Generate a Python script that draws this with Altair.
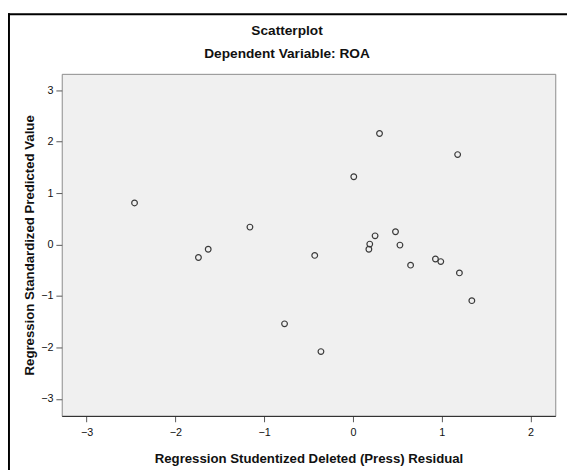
import altair as alt
import pandas as pd

# Regression Studentized Deleted (Press) Residual
resid = [-2.46, -1.16, -1.63, -1.74, -0.43, -0.77, -0.36,
         0.30, 1.18, 0.01, 0.48, 0.25, 0.19, 0.18, 0.53,
         0.65, 0.93, 0.99, 1.20, 1.34]
# Regression Standardized Predicted Value
pred = [0.81, 0.34, -0.09, -0.25, -0.21, -1.54, -2.08,
        2.16, 1.75, 1.32, 0.25, 0.17, 0.01, -0.09, -0.01,
        -0.40, -0.28, -0.33, -0.55, -1.09]

x_ticks = [-3, -2, -1, 0, 1, 2]
y_ticks = [-3, -2, -1, 0, 1, 2, 3]

df = pd.DataFrame({"resid": resid, "pred": pred})

FONT = "Liberation Sans"

points = alt.Chart(df).mark_point(
    shape="circle", filled=False, size=34, stroke="#3a3a3a", strokeWidth=1.2, opacity=1
).encode(
    x=alt.X("resid:Q",
            scale=alt.Scale(domain=[-3.28, 2.28], nice=False, zero=False),
            axis=alt.Axis(values=x_ticks, title="Regression Studentized Deleted (Press) Residual",
                          grid=False, tickSize=6, labelPadding=5, titlePadding=15,
                          domainColor="#222222", tickColor="#555555")),
    y=alt.Y("pred:Q",
            scale=alt.Scale(domain=[-3.33, 3.32], nice=False, zero=False),
            axis=alt.Axis(values=y_ticks, title="Regression Standardized Predicted Value",
                          grid=False, tickSize=6, labelPadding=3, titlePadding=4,
                          domain=False, tickColor="#555555")),
)

frame_data = alt.Data(values=[{"k": 1}])
left_line = alt.Chart(frame_data).mark_rule(color="black", strokeWidth=2).encode(
    x=alt.value(-54), y=alt.value(-62), y2=alt.value(420))
top_line = alt.Chart(frame_data).mark_rule(color="black", strokeWidth=2).encode(
    x=alt.value(-55), x2=alt.value(520), y=alt.value(-61))

chart = alt.layer(points, left_line, top_line).properties(
    width=505, height=350,
    background="white",
    title=alt.TitleParams(text="Scatterplot", subtitle="Dependent Variable: ROA",
                          anchor="middle", frame="group", dx=-22, dy=60, offset=10,
                          subtitlePadding=10),
    autosize=alt.AutoSizeParams(type="none"),
    padding={"left": 55, "top": 62, "right": 12, "bottom": 50},
).configure_view(
    fill="#f0f0f0", stroke="#8a8a8a", strokeWidth=1
).configure_axis(
    labelFont=FONT, labelFontSize=11, labelColor="#111111",
    titleFont=FONT, titleFontSize=13.5, titleFontWeight="bold", titleColor="#111111",
).configure_title(
    font=FONT, fontSize=14, fontWeight="bold", color="#111111",
    subtitleFont=FONT, subtitleFontSize=14, subtitleFontWeight="bold", subtitleColor="#111111",
)

chart.save("out.html", embed_options={"renderer": "svg", "actions": False})
